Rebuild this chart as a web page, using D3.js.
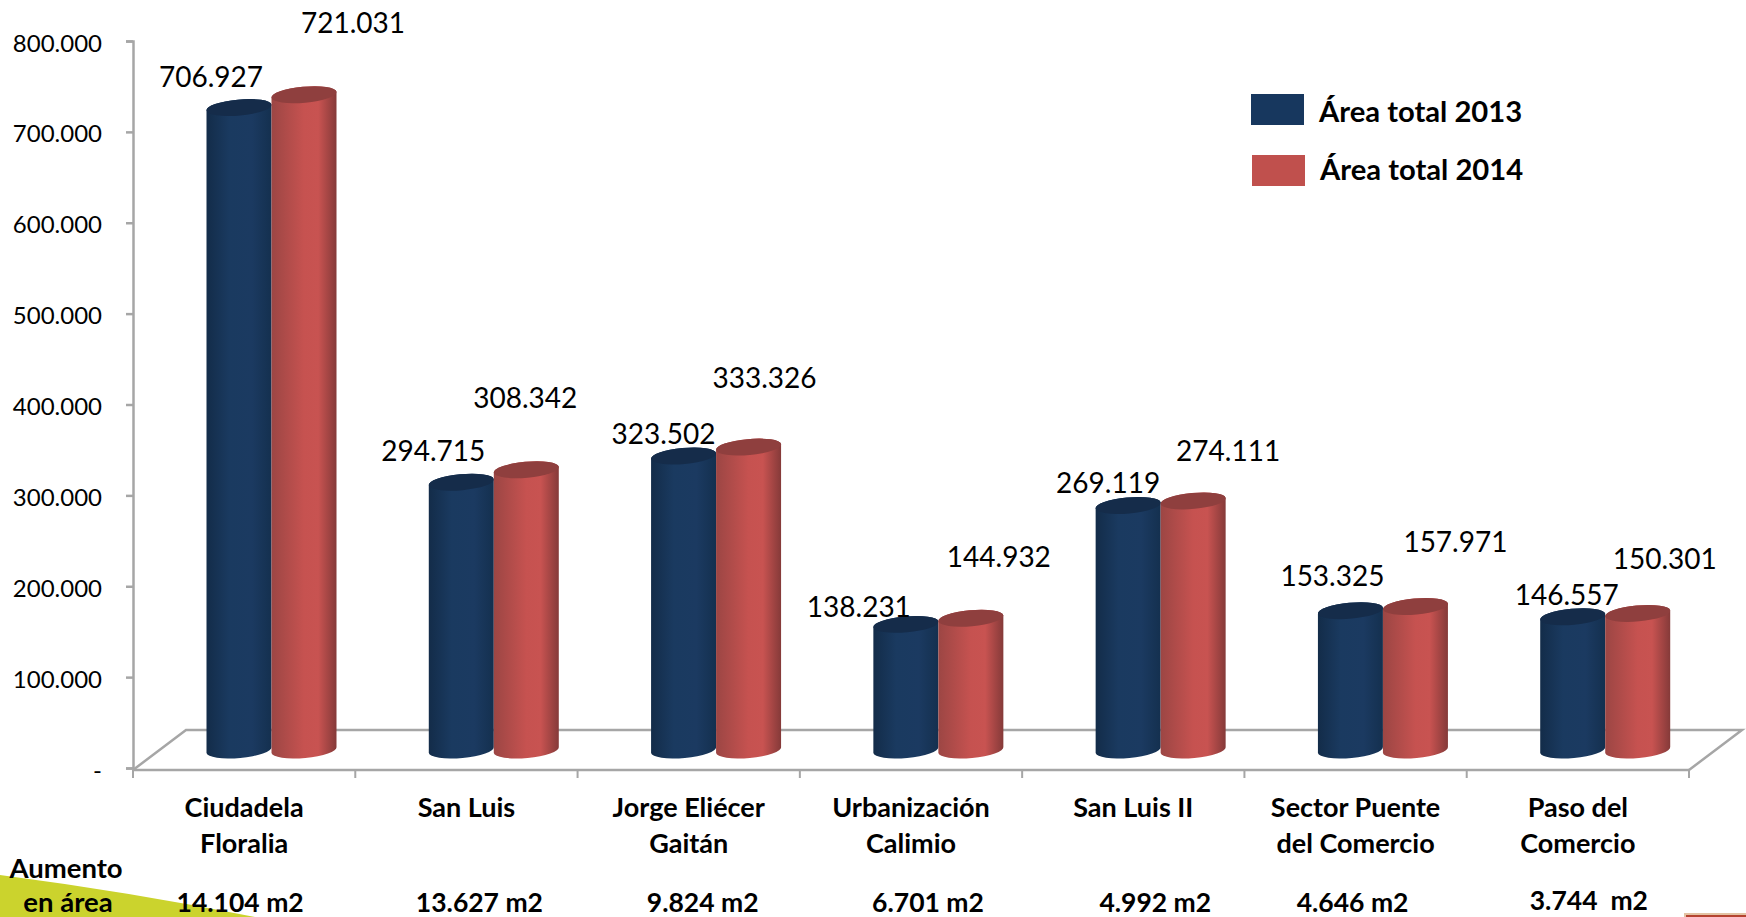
<!DOCTYPE html>
<html>
<head>
<meta charset="utf-8">
<script src="https://cdn.jsdelivr.net/npm/d3@7"></script>
<style>
html, body { margin: 0; padding: 0; background: #fff; }
svg { display: block; }
text { font-family: Lato, "Noto Sans", sans-serif; fill: #000; }
</style>
</head>
<body>
<div id="chart"></div>
<script>
var categories = [
  ["Ciudadela", "Floralia"],
  ["San Luis"],
  ["Jorge Eliécer", "Gaitán"],
  ["Urbanización", "Calimio"],
  ["San Luis II"],
  ["Sector Puente", "del Comercio"],
  ["Paso del", "Comercio"]
];
var area2013 = [706927, 294715, 323502, 138231, 269119, 153325, 146557];
var area2014 = [721031, 308342, 333326, 144932, 274111, 157971, 150301];
var aumento = [14104, 13627, 9824, 6701, 4992, 4646, 3744];
var seriesNames = ["Área total 2013", "Área total 2014"];
var yTicks = [0, 100000, 200000, 300000, 400000, 500000, 600000, 700000, 800000];

// data labels were dragged by hand in the original, so each has its own nudge
var nudge2013 = [[-28, -30], [-28, -31], [-20, -22], [-47, -17], [-20, -22], [-18, -34], [-6, -22]];
var nudge2014 = [[49, -72], [-1, -72], [16, -69], [28, -61], [35, -50], [40, -64], [27, -54]];
var nudgeAumento = [-4, 13, 14, 17, 22, -3, 11];

var W = 1746, H = 917;
var axisColor = "#a6a6a6";
var depthX = 53, depthY = 40;
var floorLift = 18;

var locale = d3.formatLocale({decimal: ",", thousands: ".", grouping: [3], currency: ["", ""]});
var fmt = locale.format(",d");

var svg = d3.select("#chart").append("svg")
  .attr("width", W)
  .attr("height", H);

var defs = svg.append("defs");

function addGradient(id, stops) {
  var g = defs.append("linearGradient").attr("id", id)
    .attr("x1", "0%").attr("x2", "100%").attr("y1", "0%").attr("y2", "0%");
  stops.forEach(function(s) {
    g.append("stop").attr("offset", s[0]).attr("stop-color", s[1]);
  });
}
addGradient("cylBlue", [["0%", "#132c49"], ["35%", "#1a3a60"], ["70%", "#1b3a61"], ["100%", "#14304f"]]);
addGradient("cylRed", [["0%", "#9c4644"], ["50%", "#c65250"], ["72%", "#c85351"], ["100%", "#853a39"]]);

// corner decorations
svg.append("path")
  .attr("d", "M0,875 Q130,892 255,917 L0,917 Z")
  .attr("fill", "#cbd32d");
svg.append("rect")
  .attr("x", 1684).attr("y", 913).attr("width", 62).attr("height", 4)
  .attr("fill", "#e3c3a4");
svg.append("rect")
  .attr("x", 1686).attr("y", 915).attr("width", 60).attr("height", 2)
  .attr("fill", "#b5432f");

var x = d3.scaleBand()
  .domain(d3.range(categories.length))
  .range([133, 1689]);

var x1 = d3.scaleBand()
  .domain([0, 1])
  .range([73.5, 203.5]);

var y = d3.scaleLinear()
  .domain([0, 800000])
  .range([768, 41]);

// floor of the 3d box
var x0 = x.range()[0], xEnd = x.range()[1], axisY = y(0) + 2;
svg.append("path")
  .attr("d", "M" + x0 + "," + axisY + " L" + (x0 + depthX) + "," + (axisY - depthY)
    + " L" + (xEnd + depthX) + "," + (axisY - depthY) + " L" + xEnd + "," + axisY)
  .attr("fill", "none")
  .attr("stroke", axisColor)
  .attr("stroke-width", 2.5);

// Y axis
var yAxis = svg.append("g")
  .attr("transform", "translate(" + x0 + ",0)")
  .call(d3.axisLeft(y)
    .tickValues(yTicks)
    .tickSize(7)
    .tickPadding(24)
    .tickFormat(function(d) { return d === 0 ? "-" : fmt(d); }));
yAxis.selectAll("path, line").attr("stroke", axisColor).attr("stroke-width", 2.5);
yAxis.selectAll("text").style("font-size", "24px").attr("dy", "0.42em").attr("fill", "#000");

// X axis, ticks sit on the band edges
var xAxis = svg.append("g").attr("transform", "translate(0," + axisY + ")");
xAxis.append("line")
  .attr("x1", x0).attr("x2", xEnd)
  .attr("stroke", axisColor).attr("stroke-width", 2.5);
xAxis.selectAll("line.tick")
  .data(d3.range(categories.length + 1))
  .enter()
  .append("line")
  .attr("class", "tick")
  .attr("x1", function(d) { return x0 + d * x.bandwidth(); })
  .attr("x2", function(d) { return x0 + d * x.bandwidth(); })
  .attr("y1", 0).attr("y2", 8)
  .attr("stroke", axisColor).attr("stroke-width", 2);

// cylinder with slightly tilted end caps
function cylinder(cx, rx, top, bottom) {
  var ry = 8, tilt = 3;
  return {
    body: "M" + (cx - rx) + "," + (top + tilt)
      + " L" + (cx - rx) + "," + (bottom + tilt)
      + " A" + rx + "," + ry + " -5 0 0 " + (cx + rx) + "," + (bottom - tilt)
      + " L" + (cx + rx) + "," + (top - tilt)
      + " A" + rx + "," + ry + " -5 0 0 " + (cx - rx) + "," + (top + tilt) + " Z",
    cap: "M" + (cx - rx) + "," + (top + tilt)
      + " A" + rx + "," + ry + " -5 0 0 " + (cx + rx) + "," + (top - tilt)
      + " A" + rx + "," + ry + " -5 0 0 " + (cx - rx) + "," + (top + tilt) + " Z"
  };
}

var seriesList = [
  {values: area2013, grad: "url(#cylBlue)", cap: "#152c4a", nudge: nudge2013},
  {values: area2014, grad: "url(#cylRed)", cap: "#8f3f3e", nudge: nudge2014}
];

seriesList.forEach(function(s, si) {
  var g = svg.append("g");
  s.values.forEach(function(v, i) {
    var cx = x(i) + x1(si) + x1.bandwidth() / 2;
    var c = cylinder(cx, x1.bandwidth() / 2, y(v) - floorLift, y(0) - floorLift);
    g.append("path").attr("d", c.body).attr("fill", s.grad);
    g.append("path").attr("d", c.cap).attr("fill", s.cap);
  });
});

// value labels on top of everything
seriesList.forEach(function(s, si) {
  svg.append("g").selectAll("text")
    .data(s.values)
    .enter()
    .append("text")
    .attr("x", function(d, i) { return x(i) + x1(si) + x1.bandwidth() / 2 + s.nudge[i][0]; })
    .attr("y", function(d, i) { return y(d) - floorLift + s.nudge[i][1]; })
    .attr("dy", "0.35em")
    .attr("text-anchor", "middle")
    .style("font-size", "28px")
    .text(function(d) { return fmt(d); });
});

// category labels
var catG = svg.append("g").selectAll("text")
  .data(categories)
  .enter()
  .append("text")
  .attr("text-anchor", "middle")
  .style("font-size", "27px")
  .style("font-weight", "700");
catG.selectAll("tspan")
  .data(function(d, i) { return d.map(function(t) { return {t: t, i: i}; }); })
  .enter()
  .append("tspan")
  .attr("x", function(d) { return x(d.i) + x.bandwidth() / 2; })
  .attr("y", function(d, j) { return 817 + j * 36; })
  .text(function(d) { return d.t; });

// increase row
svg.append("text")
  .attr("x", 66).attr("y", 878)
  .attr("text-anchor", "middle")
  .style("font-size", "27.5px").style("font-weight", "700")
  .text("Aumento");
svg.append("text")
  .attr("x", 68).attr("y", 912)
  .attr("text-anchor", "middle")
  .style("font-size", "27.5px").style("font-weight", "700")
  .text("en área");
svg.append("g").selectAll("text")
  .data(aumento)
  .enter()
  .append("text")
  .attr("x", function(d, i) { return x(i) + x.bandwidth() / 2 + nudgeAumento[i]; })
  .attr("y", function(d, i) { return i === 6 ? 910 : 912; })
  .attr("text-anchor", "middle")
  .style("font-size", "26.5px").style("font-weight", "700")
  .text(function(d, i) { return fmt(d) + (i === 6 ? "\u00a0\u00a0" : " ") + "m2"; });

// legend
var legendColors = ["#17375e", "#c0504d"];
var legend = svg.append("g").selectAll("g")
  .data(seriesNames)
  .enter()
  .append("g")
  .attr("transform", function(d, i) { return "translate(" + (1251 + i) + "," + (94 + i * 61) + ")"; });
legend.append("rect")
  .attr("width", 53).attr("height", 31)
  .attr("fill", function(d, i) { return legendColors[i]; });
legend.append("text")
  .attr("x", 69 - 1).attr("y", function(d, i) { return i === 0 ? 18 : 15; })
  .attr("dy", "0.35em")
  .style("font-size", "29.2px").style("font-weight", "700")
  .text(function(d) { return d; });
</script>
</body>
</html>
